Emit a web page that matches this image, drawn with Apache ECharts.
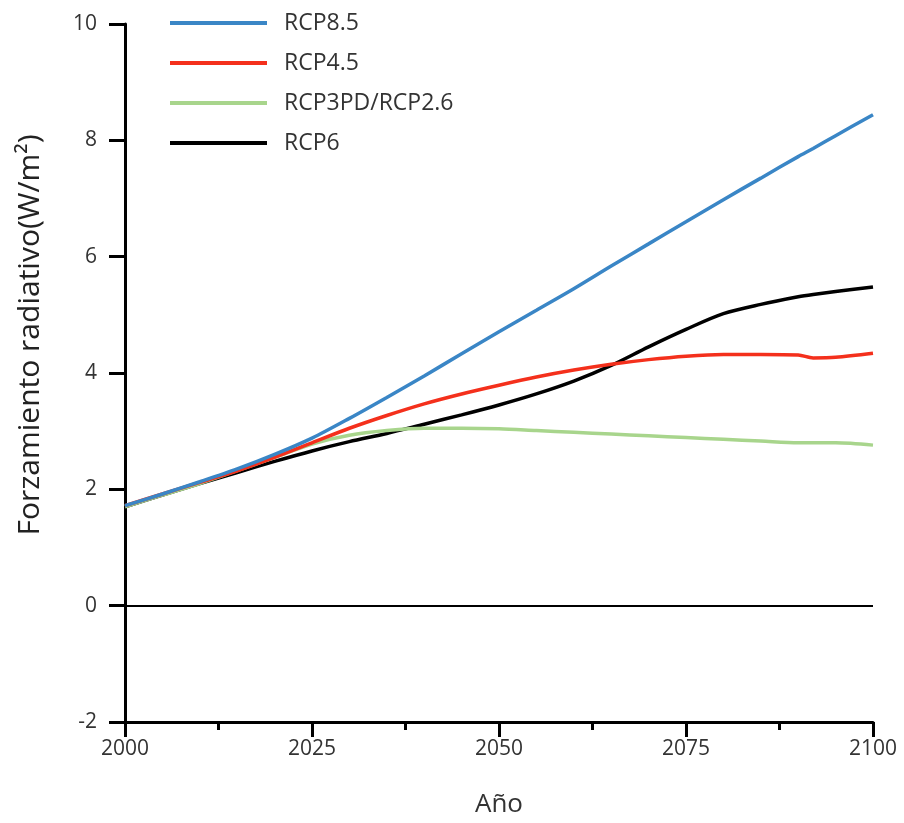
<!DOCTYPE html>
<html>
<head>
<meta charset="utf-8">
<script src="https://cdn.jsdelivr.net/npm/echarts@6/dist/echarts.min.js"></script>
<style>html,body{margin:0;padding:0;background:#fff}#c{width:904px;height:823px}</style>
</head>
<body>
<div id="c"></div>
<script>
const years = [2000,2005,2010,2015,2020,2025,2030,2035,2040,2045,2050,2055,2060,2065,2070,2075,2080,2085,2090,2092,2095,2100];
const seriesNames = ['RCP8.5','RCP4.5','RCP3PD/RCP2.6','RCP6'];
const rcp85 = [1.72,1.92,2.13,2.35,2.6,2.88,3.22,3.58,3.95,4.33,4.71,5.08,5.45,5.84,6.22,6.6,6.98,7.35,7.72,7.86,8.08,8.44];
const rcp45 = [1.72,1.92,2.12,2.32,2.55,2.8,3.05,3.27,3.47,3.64,3.79,3.93,4.05,4.15,4.23,4.29,4.32,4.32,4.31,4.26,4.27,4.34];
const rcp26 = [1.7,1.9,2.1,2.32,2.55,2.78,2.93,3.01,3.05,3.05,3.04,3.01,2.98,2.95,2.92,2.89,2.86,2.83,2.8,2.8,2.8,2.76];
const rcp6  = [1.7,1.9,2.1,2.29,2.48,2.66,2.82,2.96,3.12,3.28,3.45,3.64,3.86,4.13,4.45,4.75,5.02,5.18,5.31,5.35,5.4,5.48];
const xTicks = [2000,2025,2050,2075,2100];
const yTicks = [-2,0,2,4,6,8,10];
const colors = ['#3a86c6','#f4301c','#a8d58c','#000000'];
const allData = [rcp85, rcp45, rcp26, rcp6];

const font = '"Open Sans", sans-serif';
const chart = echarts.init(document.getElementById('c'));
const series = seriesNames.map((n,i)=>({
  name:n, type:'line', smooth:0.3, symbol:'none',
  data: years.map((y,j)=>[y, allData[i][j]]),
  lineStyle:{color:colors[i], width:3.5},
  itemStyle:{color:colors[i]},
  z: 10 - i
}));
series[3].markLine = {
  silent:true, symbol:'none', label:{show:false},
  lineStyle:{color:'#000', width:2, type:'solid'},
  data:[{yAxis:0}]
};
chart.setOption({
  animation:false,
  backgroundColor:'#fff',
  grid:{left:125, right:31, top:24, bottom:101},
  legend:{
    orient:'vertical', left:165, top:6,
    data:seriesNames,
    icon:'rect', itemWidth:97, itemHeight:4, itemGap:16,
    textStyle:{fontFamily:font, fontSize:23, color:'#333', padding:[0,0,0,12], lineHeight:24}
  },
  xAxis:{
    type:'value', min:2000, max:2100, interval:25,
    name:'Año', nameLocation:'middle', nameGap:70,
    nameTextStyle:{fontFamily:font, fontSize:26, color:'#333'},
    axisLine:{show:true, onZero:false, lineStyle:{color:'#000', width:3}},
    axisTick:{show:true, length:15, lineStyle:{color:'#000', width:3}},
    minorTick:{show:true, splitNumber:2, length:8, lineStyle:{color:'#000', width:3}},
    splitLine:{show:false},
    axisLabel:{fontFamily:font, fontSize:21, color:'#333', margin:17, formatter:v=>String(v)}
  },
  yAxis:{
    type:'value', min:-2, max:10, interval:2,
    name:'Forzamiento radiativo(W/m²)', nameLocation:'middle', nameGap:80,
    nameTextStyle:{fontFamily:font, fontSize:30, color:'#222', padding:[0,0,0,76]},
    axisLine:{show:true, lineStyle:{color:'#000', width:3}},
    axisTick:{show:true, length:16, lineStyle:{color:'#000', width:3}},
    splitLine:{show:false},
    axisLabel:{fontFamily:font, fontSize:21, color:'#333', margin:28}
  },
  series: series
});
</script>
</body>
</html>
